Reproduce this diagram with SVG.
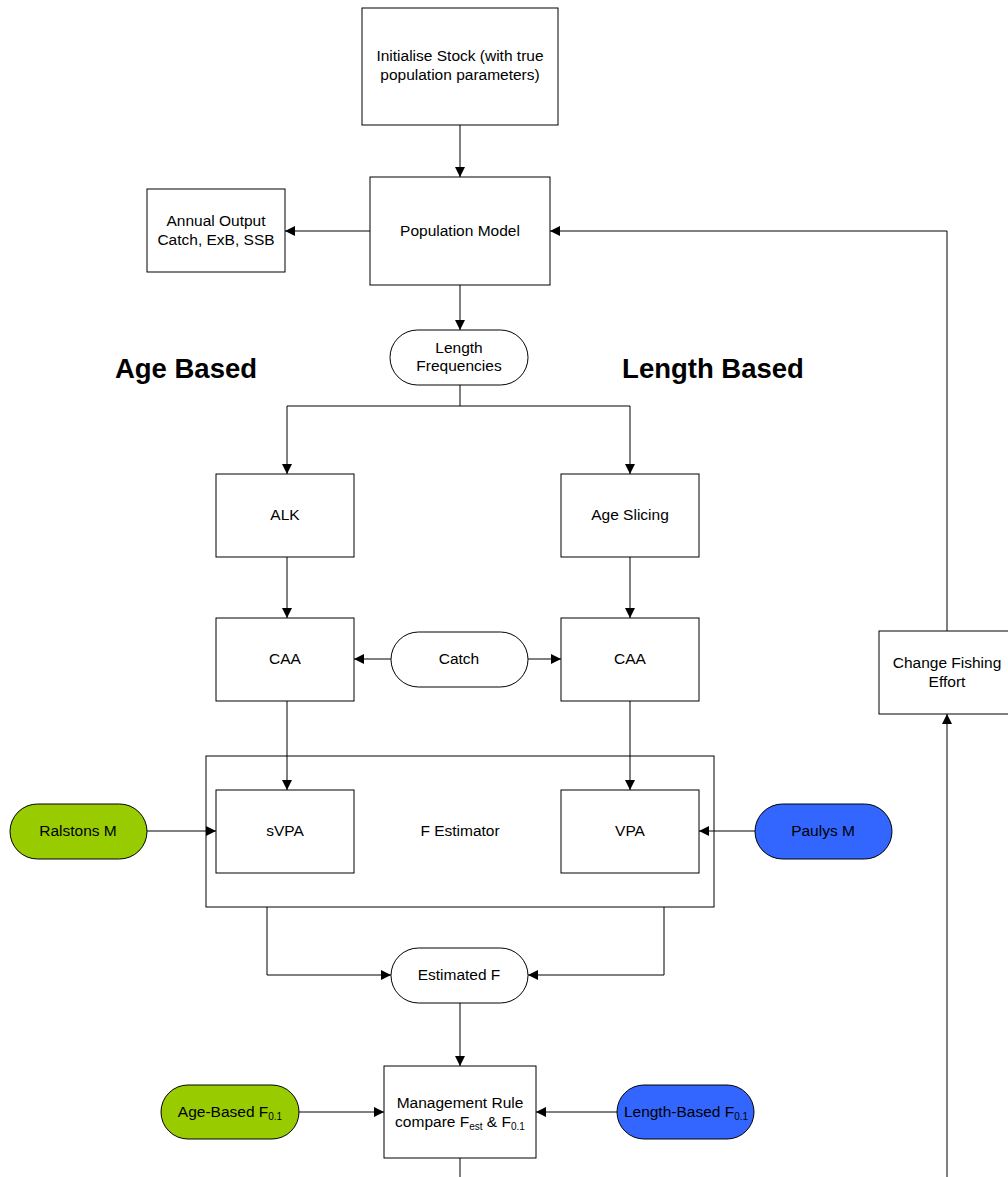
<svg xmlns="http://www.w3.org/2000/svg" width="1008" height="1177" viewBox="0 0 1008 1177">
<defs>
<marker id="ah" markerWidth="10" markerHeight="10" refX="10" refY="5" orient="auto" markerUnits="userSpaceOnUse">
<path d="M0,0 L10,5 L0,10 Z" fill="#000"/>
</marker>
<style>
.b{fill:#fff;stroke:#000;stroke-width:1}
.g{fill:#99CC00;stroke:#000;stroke-width:1}
.u{fill:#3366FF;stroke:#000;stroke-width:1}
.t{font-family:"Liberation Sans",Arial,sans-serif;font-size:15.5px;fill:#000;text-anchor:middle}
.h{font-family:"Liberation Sans",Arial,sans-serif;font-size:27.5px;font-weight:bold;fill:#000;text-anchor:middle}
.c{fill:none;stroke:#000;stroke-width:1}
.s{font-size:10px}
</style>
</defs>
<rect width="1008" height="1177" fill="#fff"/>
<text class="h" x="186" y="378">Age Based</text>
<text class="h" x="713" y="378">Length Based</text>
<g id="init"><rect class="b" x="362" y="8" width="196" height="117"/>
<text class="t" x="460" y="61">Initialise Stock (with true</text>
<text class="t" x="460" y="80">population parameters)</text></g>
<g id="popmodel"><rect class="b" x="370" y="177" width="180" height="108"/>
<text class="t" x="460" y="236">Population Model</text></g>
<g id="annual"><rect class="b" x="147" y="189" width="138" height="83"/>
<text class="t" x="216" y="226">Annual Output</text>
<text class="t" x="216" y="245">Catch, ExB, SSB</text></g>
<g id="lenfreq"><rect class="b" x="390" y="330" width="138" height="55" rx="27.5"/>
<text class="t" x="459" y="353">Length</text>
<text class="t" x="459" y="371">Frequencies</text></g>
<g id="alk"><rect class="b" x="216" y="474" width="138" height="83"/>
<text class="t" x="285" y="520">ALK</text></g>
<g id="ageslicing"><rect class="b" x="561" y="474" width="138" height="83"/>
<text class="t" x="630" y="520">Age Slicing</text></g>
<g id="caa-left"><rect class="b" x="216" y="618" width="138" height="83"/>
<text class="t" x="285" y="664">CAA</text></g>
<g id="caa-right"><rect class="b" x="561" y="618" width="138" height="83"/>
<text class="t" x="630" y="664">CAA</text></g>
<g id="catch"><rect class="b" x="391" y="632" width="137" height="55" rx="27.5"/>
<text class="t" x="459" y="664">Catch</text></g>
<g id="festimator"><rect class="b" x="206" y="756" width="508" height="151"/>
<text class="t" x="460" y="836">F Estimator</text></g>
<g id="svpa"><rect class="b" x="216" y="790" width="138" height="83"/>
<text class="t" x="285" y="836">sVPA</text></g>
<g id="vpa"><rect class="b" x="561" y="790" width="138" height="83"/>
<text class="t" x="630" y="836">VPA</text></g>
<g id="ralstons"><rect class="g" x="10" y="804" width="137" height="55" rx="27.5"/>
<text class="t" x="78" y="836">Ralstons M</text></g>
<g id="paulys"><rect class="u" x="755" y="804" width="137" height="55" rx="27.5"/>
<text class="t" x="823" y="836">Paulys M</text></g>
<g id="estf"><rect class="b" x="391" y="948" width="137" height="55" rx="27.5"/>
<text class="t" x="459" y="980">Estimated F</text></g>
<g id="mgmt"><rect class="b" x="384" y="1066" width="152" height="92"/>
<text class="t" x="460" y="1108">Management Rule</text>
<text class="t" x="460" y="1127">compare F<tspan class="s" dy="3">est</tspan><tspan dy="-3"> &amp; F</tspan><tspan class="s" dy="3">0.1</tspan></text></g>
<g id="agef01"><rect class="g" x="161" y="1085" width="138" height="54" rx="27"/>
<text class="t" x="230" y="1117">Age-Based F<tspan class="s" dy="3">0.1</tspan></text></g>
<g id="lenf01"><rect class="u" x="617" y="1085" width="137" height="54" rx="27"/>
<text class="t" x="686" y="1117">Length-Based F<tspan class="s" dy="3">0.1</tspan></text></g>
<g id="changeeffort"><rect class="b" x="879" y="631" width="136" height="83"/>
<text class="t" x="947" y="668">Change Fishing</text>
<text class="t" x="947" y="687">Effort</text></g>
<g id="connectors">
<path class="c" d="M460,125 V177" marker-end="url(#ah)"/>
<path class="c" d="M370,231 H285" marker-end="url(#ah)"/>
<path class="c" d="M947,631 V231 H550" marker-end="url(#ah)"/>
<path class="c" d="M460,285 V330" marker-end="url(#ah)"/>
<path class="c" d="M460,385 V406 H287 V474" marker-end="url(#ah)"/>
<path class="c" d="M460,406 H630 V474" marker-end="url(#ah)"/>
<path class="c" d="M287,557 V618" marker-end="url(#ah)"/>
<path class="c" d="M630,557 V618" marker-end="url(#ah)"/>
<path class="c" d="M391,659 H354" marker-end="url(#ah)"/>
<path class="c" d="M528,659 H561" marker-end="url(#ah)"/>
<path class="c" d="M287,701 V790" marker-end="url(#ah)"/>
<path class="c" d="M630,701 V790" marker-end="url(#ah)"/>
<path class="c" d="M147,831 H216" marker-end="url(#ah)"/>
<path class="c" d="M755,831 H699" marker-end="url(#ah)"/>
<path class="c" d="M267,907 V975 H391" marker-end="url(#ah)"/>
<path class="c" d="M664,907 V975 H528" marker-end="url(#ah)"/>
<path class="c" d="M460,1003 V1066" marker-end="url(#ah)"/>
<path class="c" d="M299,1112 H384" marker-end="url(#ah)"/>
<path class="c" d="M617,1112 H536" marker-end="url(#ah)"/>
<path class="c" d="M460,1158 V1177"/>
<path class="c" d="M947,1177 V714" marker-end="url(#ah)"/>
</g>
</svg>
